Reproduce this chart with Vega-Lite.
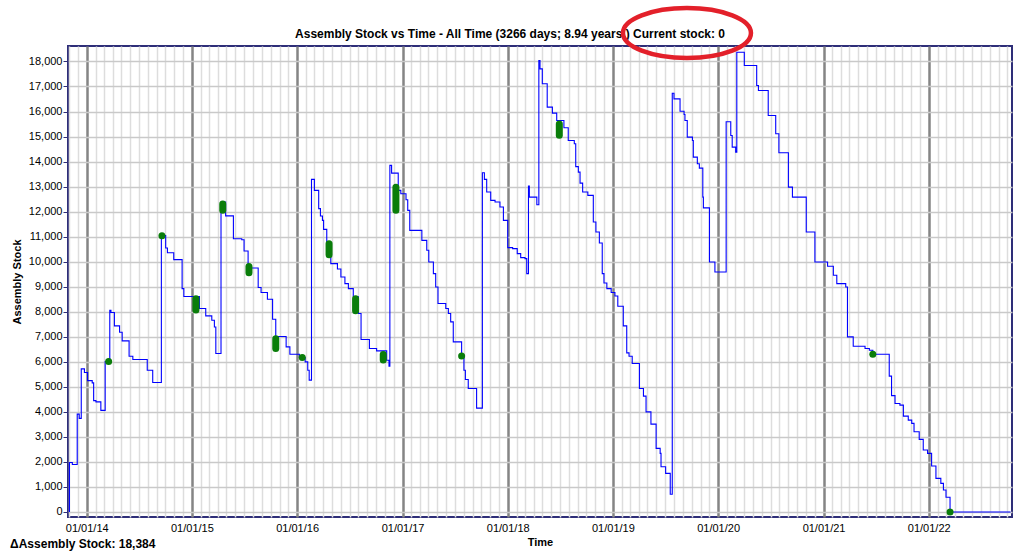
{
  "$schema": "https://vega.github.io/schema/vega-lite/v6.json",
  "width": 944,
  "height": 471,
  "autosize": {"type": "none"},
  "padding": {"left": 68, "top": 46, "right": 10, "bottom": 42},
  "background": "white",
  "config": {
    "font": "Liberation Sans",
    "view": {"stroke": "#2e2e78", "strokeWidth": 2},
    "axisY": {"labelOverlap": false},
    "axisX": {"labelOverlap": false}
  },
  "datasets": {
    "stock": [
      {"d": "2013-11-02", "v": 0}, {"d": "2013-11-02", "v": 1980}, {"d": "2013-11-12", "v": 1900}, {"d": "2013-11-29", "v": 3910}, {"d": "2013-12-06", "v": 3740}, {"d": "2013-12-13", "v": 5720}, {"d": "2013-12-24", "v": 5575}, {"d": "2014-01-04", "v": 5250}, {"d": "2014-01-20", "v": 5160}, {"d": "2014-01-25", "v": 4450}, {"d": "2014-02-02", "v": 4400}, {"d": "2014-02-19", "v": 4060}, {"d": "2014-03-06", "v": 6015}, {"d": "2014-03-22", "v": 8060}, {"d": "2014-03-26", "v": 7970}, {"d": "2014-04-07", "v": 7435}, {"d": "2014-04-25", "v": 7183}, {"d": "2014-05-04", "v": 6836}, {"d": "2014-05-28", "v": 6225}, {"d": "2014-06-10", "v": 6093}, {"d": "2014-07-30", "v": 5666}, {"d": "2014-08-18", "v": 5175}, {"d": "2014-09-17", "v": 11040}, {"d": "2014-10-02", "v": 10547}, {"d": "2014-10-08", "v": 10360}, {"d": "2014-10-30", "v": 10083}, {"d": "2014-11-28", "v": 8926}, {"d": "2014-12-04", "v": 8607}, {"d": "2015-01-27", "v": 8130}, {"d": "2015-02-18", "v": 7834}, {"d": "2015-03-11", "v": 7660}, {"d": "2015-03-20", "v": 7394}, {"d": "2015-03-25", "v": 6332}, {"d": "2015-04-12", "v": 12380}, {"d": "2015-04-28", "v": 11830}, {"d": "2015-05-25", "v": 10920}, {"d": "2015-06-23", "v": 10880}, {"d": "2015-07-01", "v": 10425}, {"d": "2015-07-15", "v": 9750}, {"d": "2015-08-19", "v": 8967}, {"d": "2015-08-29", "v": 8767}, {"d": "2015-09-20", "v": 8500}, {"d": "2015-10-08", "v": 7700}, {"d": "2015-10-19", "v": 7010}, {"d": "2015-11-24", "v": 6597}, {"d": "2015-12-07", "v": 6305}, {"d": "2016-01-09", "v": 6172}, {"d": "2016-01-29", "v": 5998}, {"d": "2016-02-07", "v": 5666}, {"d": "2016-02-12", "v": 5267}, {"d": "2016-02-20", "v": 13290}, {"d": "2016-03-01", "v": 12850}, {"d": "2016-03-16", "v": 12120}, {"d": "2016-03-22", "v": 11823}, {"d": "2016-03-29", "v": 11652}, {"d": "2016-04-02", "v": 11293}, {"d": "2016-04-13", "v": 10734}, {"d": "2016-04-27", "v": 9922}, {"d": "2016-05-20", "v": 9710}, {"d": "2016-06-01", "v": 9390}, {"d": "2016-06-15", "v": 9126}, {"d": "2016-06-27", "v": 8926}, {"d": "2016-07-14", "v": 8600}, {"d": "2016-08-01", "v": 7930}, {"d": "2016-08-10", "v": 6890}, {"d": "2016-09-08", "v": 6533}, {"d": "2016-10-03", "v": 6437}, {"d": "2016-11-07", "v": 6065}, {"d": "2016-11-15", "v": 5826}, {"d": "2016-11-18", "v": 13847}, {"d": "2016-11-24", "v": 13540}, {"d": "2016-12-17", "v": 12850}, {"d": "2016-12-26", "v": 12717}, {"d": "2017-01-13", "v": 12478}, {"d": "2017-01-19", "v": 12051}, {"d": "2017-01-26", "v": 11253}, {"d": "2017-03-09", "v": 10854}, {"d": "2017-03-26", "v": 10455}, {"d": "2017-04-02", "v": 9988}, {"d": "2017-04-18", "v": 9525}, {"d": "2017-04-26", "v": 8990}, {"d": "2017-05-04", "v": 8328}, {"d": "2017-05-31", "v": 8128}, {"d": "2017-06-09", "v": 7930}, {"d": "2017-06-17", "v": 7594}, {"d": "2017-06-26", "v": 6796}, {"d": "2017-07-25", "v": 6265}, {"d": "2017-08-02", "v": 5666}, {"d": "2017-08-07", "v": 5295}, {"d": "2017-08-17", "v": 4936}, {"d": "2017-09-15", "v": 4150}, {"d": "2017-10-05", "v": 13556}, {"d": "2017-10-12", "v": 13290}, {"d": "2017-10-20", "v": 12784}, {"d": "2017-11-03", "v": 12450}, {"d": "2017-11-18", "v": 12383}, {"d": "2017-12-05", "v": 12184}, {"d": "2017-12-17", "v": 11652}, {"d": "2018-01-01", "v": 10563}, {"d": "2018-01-18", "v": 10523}, {"d": "2018-02-03", "v": 10323}, {"d": "2018-02-15", "v": 10163}, {"d": "2018-03-02", "v": 10123}, {"d": "2018-03-08", "v": 9525}, {"d": "2018-03-14", "v": 13020}, {"d": "2018-03-17", "v": 12582}, {"d": "2018-04-12", "v": 12277}, {"d": "2018-04-19", "v": 18037}, {"d": "2018-04-23", "v": 17706}, {"d": "2018-05-01", "v": 17107}, {"d": "2018-05-18", "v": 16175}, {"d": "2018-06-05", "v": 15936}, {"d": "2018-06-20", "v": 15642}, {"d": "2018-07-15", "v": 15350}, {"d": "2018-07-30", "v": 14844}, {"d": "2018-08-20", "v": 14711}, {"d": "2018-08-25", "v": 13800}, {"d": "2018-09-03", "v": 13580}, {"d": "2018-09-09", "v": 13140}, {"d": "2018-09-18", "v": 12784}, {"d": "2018-10-06", "v": 12650}, {"d": "2018-10-25", "v": 11585}, {"d": "2018-11-03", "v": 11186}, {"d": "2018-11-15", "v": 10747}, {"d": "2018-11-25", "v": 9525}, {"d": "2018-12-01", "v": 9150}, {"d": "2018-12-11", "v": 8926}, {"d": "2018-12-26", "v": 8767}, {"d": "2019-01-08", "v": 8632}, {"d": "2019-01-18", "v": 8220}, {"d": "2019-02-06", "v": 7435}, {"d": "2019-02-18", "v": 6357}, {"d": "2019-02-26", "v": 6225}, {"d": "2019-03-09", "v": 5934}, {"d": "2019-04-03", "v": 4936}, {"d": "2019-04-17", "v": 4629}, {"d": "2019-04-26", "v": 4002}, {"d": "2019-05-13", "v": 3511}, {"d": "2019-05-31", "v": 2542}, {"d": "2019-06-14", "v": 2342}, {"d": "2019-06-17", "v": 1808}, {"d": "2019-07-03", "v": 1544}, {"d": "2019-07-19", "v": 706}, {"d": "2019-07-26", "v": 16732}, {"d": "2019-08-01", "v": 16507}, {"d": "2019-08-22", "v": 16014}, {"d": "2019-09-05", "v": 15882}, {"d": "2019-09-08", "v": 15642}, {"d": "2019-09-16", "v": 14977}, {"d": "2019-10-04", "v": 14844}, {"d": "2019-10-07", "v": 14179}, {"d": "2019-10-21", "v": 13913}, {"d": "2019-10-28", "v": 13740}, {"d": "2019-11-09", "v": 12582}, {"d": "2019-11-11", "v": 12150}, {"d": "2019-12-02", "v": 9988}, {"d": "2019-12-21", "v": 9590}, {"d": "2020-01-29", "v": 15590}, {"d": "2020-02-14", "v": 15044}, {"d": "2020-02-19", "v": 14578}, {"d": "2020-03-02", "v": 14379}, {"d": "2020-03-06", "v": 18370}, {"d": "2020-04-01", "v": 17837}, {"d": "2020-05-14", "v": 17040}, {"d": "2020-05-20", "v": 16840}, {"d": "2020-06-23", "v": 15842}, {"d": "2020-07-19", "v": 15110}, {"d": "2020-07-30", "v": 14353}, {"d": "2020-09-01", "v": 12980}, {"d": "2020-09-15", "v": 12582}, {"d": "2020-11-02", "v": 11186}, {"d": "2020-12-02", "v": 9988}, {"d": "2021-01-15", "v": 9816}, {"d": "2021-02-04", "v": 9457}, {"d": "2021-02-16", "v": 9126}, {"d": "2021-03-19", "v": 8990}, {"d": "2021-03-25", "v": 6996}, {"d": "2021-04-14", "v": 6624}, {"d": "2021-05-25", "v": 6533}, {"d": "2021-06-09", "v": 6465}, {"d": "2021-06-21", "v": 6305}, {"d": "2021-08-17", "v": 5427}, {"d": "2021-08-25", "v": 4650}, {"d": "2021-09-06", "v": 4337}, {"d": "2021-09-23", "v": 4270}, {"d": "2021-10-05", "v": 3831}, {"d": "2021-10-22", "v": 3671}, {"d": "2021-11-03", "v": 3539}, {"d": "2021-11-11", "v": 3204}, {"d": "2021-11-29", "v": 2901}, {"d": "2021-12-13", "v": 2474}, {"d": "2021-12-28", "v": 2342}, {"d": "2022-01-11", "v": 1836}, {"d": "2022-01-26", "v": 1345}, {"d": "2022-02-12", "v": 1145}, {"d": "2022-02-21", "v": 878}, {"d": "2022-03-02", "v": 587}, {"d": "2022-03-16", "v": 0}, {"d": "2022-10-12", "v": 0}
    ],
    "marks": [
      {"d": "2014-03-18", "top": 6015, "bot": 6015},
      {"d": "2014-09-19", "top": 11040, "bot": 11040},
      {"d": "2015-01-15", "top": 8520, "bot": 8070},
      {"d": "2015-04-18", "top": 12310, "bot": 12060},
      {"d": "2015-07-18", "top": 9808, "bot": 9557},
      {"d": "2015-10-19", "top": 6923, "bot": 6536},
      {"d": "2016-01-19", "top": 6172, "bot": 6172},
      {"d": "2016-04-21", "top": 10714, "bot": 10275},
      {"d": "2016-07-22", "top": 8520, "bot": 8041},
      {"d": "2016-10-26", "top": 6297, "bot": 6073},
      {"d": "2016-12-09", "top": 12977, "bot": 12059},
      {"d": "2017-07-25", "top": 6237, "bot": 6237},
      {"d": "2018-06-29", "top": 15503, "bot": 15052},
      {"d": "2021-06-21", "top": 6305, "bot": 6305},
      {"d": "2022-03-16", "top": 0, "bot": 0}
    ],
    "delta": [
      {"d": "2013-04-10", "v": -1278, "label": "ΔAssembly Stock: 18,384"}
    ],
    "heading": [
      {"d": "2018-01-09", "v": 19085, "label": "Assembly Stock vs Time - All Time (3266 days; 8.94 years ) Current stock: 0"}
    ],
    "circle": [
      {"d": "2019-09-15", "v": 19137}
    ]
  },
  "layer": [
    {
      "data": {"name": "stock"},
      "mark": {"type": "line", "interpolate": "step-after", "color": "#0000ff", "strokeWidth": 1.1},
      "encoding": {
        "x": {
          "field": "d", "type": "temporal", "title": "Time",
          "scale": {"type": "utc", "nice": false, "domain": [{"year": 2013, "month": 10, "date": 28, "utc": true}, {"year": 2022, "month": 10, "date": 17, "utc": true}]},
          "axis": {
            "tickCount": {"interval": "month", "step": 1},
            "labelExpr": "utcmonth(datum.value) == 0 ? utcFormat(datum.value, '%m/%d/%y') : ''",
            "labelOverlap": false, "labelFlush": false, "labelBound": false,
            "ticks": false, "domain": false, "labelPadding": 5,
            "labelFontSize": 11, "labelColor": "black", "labelFont": "Liberation Sans",
            "titleFontSize": 11, "titleFontWeight": "bold", "titleColor": "black", "titlePadding": 3, "titleFont": "Liberation Sans",
            "gridColor": {"condition": {"test": "utcmonth(datum.value) == 0", "value": "#858585"}, "value": "#dddddd"},
            "gridWidth": {"condition": {"test": "utcmonth(datum.value) == 0", "value": 2.5}, "value": 1.5},
            "gridOpacity": 1
          }
        },
        "y": {
          "field": "v", "type": "quantitative", "title": "Assembly Stock",
          "scale": {"domain": [-200, 18618], "nice": false, "zero": false},
          "axis": {
            "values": [0, 1000, 2000, 3000, 4000, 5000, 6000, 7000, 8000, 9000, 10000, 11000, 12000, 13000, 14000, 15000, 16000, 17000, 18000],
            "tickCount": 19,
            "format": ",d", "domain": false, "tickSize": 5, "tickColor": "#2e2e78", "labelPadding": 1, "labelOverlap": false,
            "labelFontSize": 11, "labelColor": "black", "labelFont": "Liberation Sans",
            "titleFontSize": 11, "titleFontWeight": "bold", "titleColor": "black", "titlePadding": 6, "titleFont": "Liberation Sans",
            "gridColor": "#c9c9c9", "gridWidth": 1.5, "gridOpacity": 1
          }
        }
      }
    },
    {
      "mark": {"type": "rule", "color": "black", "strokeWidth": 1.5},
      "encoding": {"y": {"datum": 0, "type": "quantitative", "title": "Assembly Stock"}}
    },
    {
      "mark": {"type": "rule", "color": "#2e2e78", "strokeWidth": 2.5},
      "encoding": {"y": {"datum": -200, "type": "quantitative", "title": "Assembly Stock"}}
    },
    {
      "mark": {"type": "rule", "color": "#2e2e78", "strokeWidth": 2.5},
      "encoding": {"y": {"datum": 18618, "type": "quantitative", "title": "Assembly Stock"}}
    },
    {
      "data": {"name": "marks"},
      "mark": {"type": "rule", "color": "#0a7d0a", "strokeWidth": 7, "strokeCap": "round"},
      "encoding": {
        "x": {"field": "d", "type": "temporal", "title": "Time"},
        "y": {"field": "top", "type": "quantitative", "title": "Assembly Stock"},
        "y2": {"field": "bot"}
      }
    },
    {
      "data": {"name": "delta"},
      "mark": {"type": "text", "align": "left", "baseline": "middle", "fontSize": 12, "fontWeight": "bold", "font": "Liberation Sans", "color": "black"},
      "encoding": {
        "x": {"field": "d", "type": "temporal", "title": "Time"},
        "y": {"field": "v", "type": "quantitative", "title": "Assembly Stock"},
        "text": {"field": "label"}
      }
    },
    {
      "data": {"name": "heading"},
      "mark": {"type": "text", "align": "center", "baseline": "middle", "fontSize": 12, "fontWeight": "bold", "font": "Liberation Sans", "color": "black"},
      "encoding": {
        "x": {"field": "d", "type": "temporal", "title": "Time"},
        "y": {"field": "v", "type": "quantitative", "title": "Assembly Stock"},
        "text": {"field": "label"}
      }
    },
    {
      "data": {"name": "circle"},
      "mark": {"type": "point", "shape": "M -1 0 A 1 0.39 0 1 1 1 0 A 1 0.39 0 1 1 -1 0 Z", "size": 16384, "filled": false, "stroke": "#e3202a", "strokeWidth": 4.5, "opacity": 1},
      "encoding": {
        "x": {"field": "d", "type": "temporal", "title": "Time"},
        "y": {"field": "v", "type": "quantitative", "title": "Assembly Stock"}
      }
    }
  ]
}
